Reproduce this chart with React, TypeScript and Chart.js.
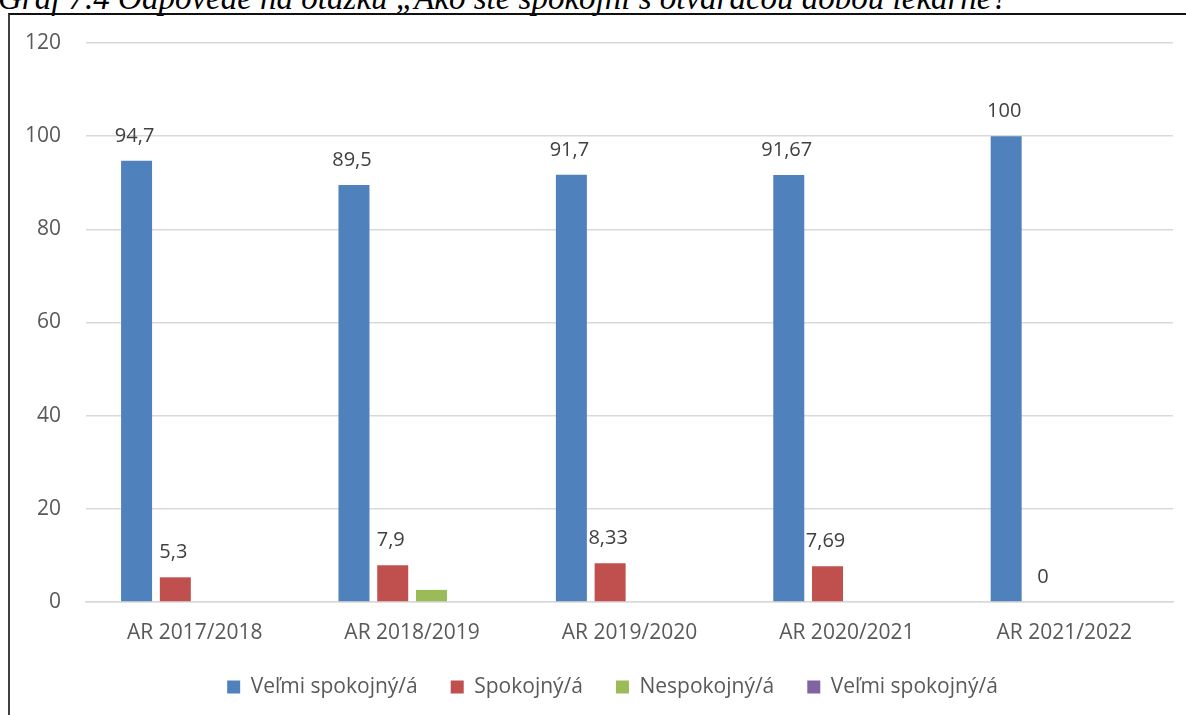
import React, { useEffect, useRef } from "react";
import { Chart, registerables } from "chart.js";

Chart.register(...registerables);

const categories = ["AR 2017/2018", "AR 2018/2019", "AR 2019/2020", "AR 2020/2021", "AR 2021/2022"];
const seriesNames = ["Veľmi spokojný/á", "Spokojný/á", "Nespokojný/á", "Veľmi spokojný/á"];
const velmiSpokojny = [94.7, 89.5, 91.7, 91.67, 100];
const spokojny = [5.3, 7.9, 8.33, 7.69, 0];
const nespokojny = [0, 2.6, 0, 0, 0];
const velmiNespokojny = [0, 0, 0, 0, 0];
const seriesColors = ["#4F81BD", "#C0504D", "#9BBB59", "#8064A2"];
const labeledSeries = [0, 1];
const yTicks = [0, 20, 40, 60, 80, 100, 120];
const caption = "Graf 7.4  Odpovede na otázku „Ako ste spokojní s otváracou dobou lekárne?";

const FONT = "'Open Sans', sans-serif";

const dataLabelPlugin = {
  id: "dataLabels",
  afterDatasetsDraw(chart: any) {
    const ctx = chart.ctx;
    ctx.save();
    ctx.font = `20px ${FONT}`;
    ctx.fillStyle = "#404040";
    ctx.textAlign = "center";
    ctx.textBaseline = "middle";
    labeledSeries.forEach((di) => {
      const meta = chart.getDatasetMeta(di);
      const values = chart.data.datasets[di].data as number[];
      meta.data.forEach((el: any, i: number) => {
        const txt = String(values[i]).replace(".", ",");
        ctx.fillText(txt, el.x - 2, el.y - 25);
      });
    });
    ctx.restore();
  },
};

const legendShiftPlugin = {
  id: "legendShift",
  afterLayout(chart: any) {
    const lg = chart.legend;
    if (lg) {
      lg.left += 26;
      lg.right += 26;
    }
  },
};

export default function App() {
  const ref = useRef<HTMLCanvasElement | null>(null);
  useEffect(() => {
    if (!ref.current) return;
    const allSeries = [velmiSpokojny, spokojny, nespokojny, velmiNespokojny];
    const chart = new Chart(ref.current, {
      type: "bar",
      data: {
        labels: categories,
        datasets: allSeries.map((d, i) => ({
          label: seriesNames[i],
          data: d,
          backgroundColor: seriesColors[i],
          borderWidth: 0,
          categoryPercentage: 0.713,
          barPercentage: 0.8,
        })),
      },
      options: {
        responsive: false,
        animation: false,
        devicePixelRatio: 1,
        layout: { padding: { left: 0, right: 13, top: 43, bottom: 7.5 } },
        plugins: {
          tooltip: { enabled: false },
          legend: {
            position: "bottom",
            labels: {
              font: { family: FONT, size: 21 },
              color: "#595959",
              boxWidth: 13,
              boxHeight: 13,
              padding: 33,
            },
          },
        },
        scales: {
          x: {
            grid: { display: false, drawTicks: false },
            border: { display: true, color: "#D9D9D9", width: 1.5 },
            ticks: { font: { family: FONT, size: 21 }, color: "#595959", padding: 18, maxRotation: 0 },
            afterFit: (s: any) => { s.height = 41.5; },
          },
          y: {
            min: 0,
            max: 120,
            afterBuildTicks: (s: any) => { s.ticks = yTicks.map((v) => ({ value: v })); },
            grid: { color: "#D9D9D9", lineWidth: 1.5, drawTicks: false },
            border: { display: false },
            ticks: { font: { family: FONT, size: 21 }, color: "#595959", padding: 25 },
            afterFit: (s: any) => { s.width = 86; },
          },
        },
      },
      plugins: [dataLabelPlugin, legendShiftPlugin],
    } as any);
    return () => chart.destroy();
  }, []);

  return (
    <div style={{ position: "fixed", left: 0, top: 0, width: 1186, height: 715, background: "#fff", overflow: "hidden" }}>
      <div
        style={{
          position: "absolute",
          left: -2,
          top: -18,
          whiteSpace: "nowrap",
          fontFamily: "'Liberation Serif', 'Times New Roman', serif",
          fontStyle: "italic",
          fontSize: 33,
          lineHeight: "33px",
          color: "#000",
        }}
      >
        {caption}
      </div>
      <div style={{ position: "absolute", left: 8, top: 13, width: 1178, height: 702, borderLeft: "2px solid #404040", borderTop: "2px solid #111", boxSizing: "border-box", background: "transparent" }} />
      <canvas ref={ref} width={1186} height={715} style={{ position: "absolute", left: 0, top: 0, width: 1186, height: 715 }} />
    </div>
  );
}
